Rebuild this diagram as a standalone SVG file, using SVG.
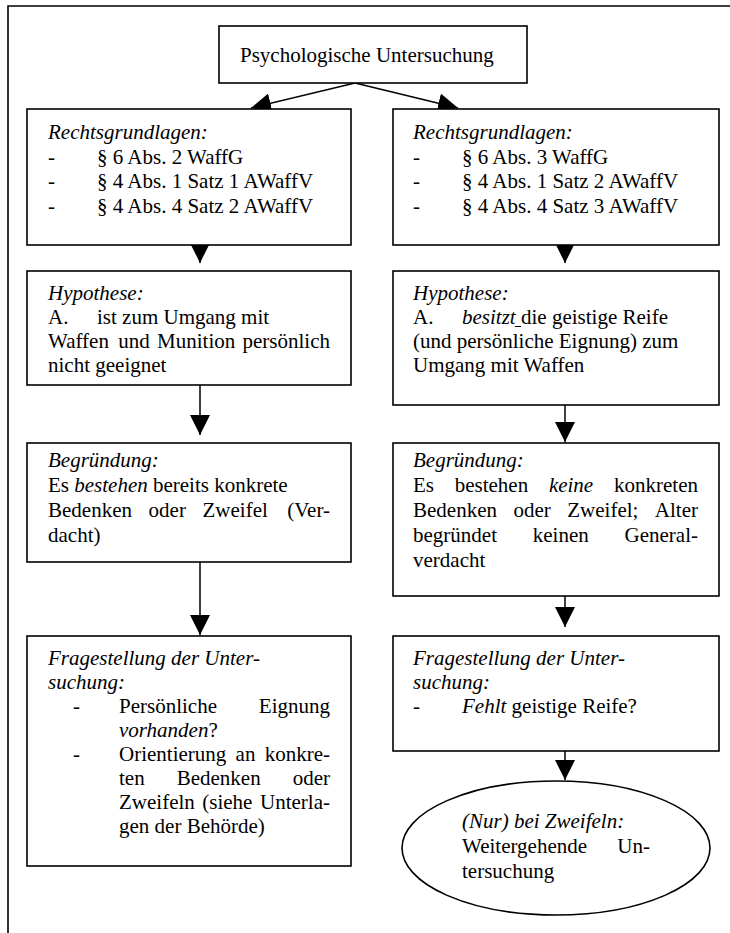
<svg xmlns="http://www.w3.org/2000/svg" width="730" height="933" viewBox="0 0 730 933">
<style>
.box{fill:#fff;stroke:#000;stroke-width:1.6}
.t{font-family:"Liberation Serif","Times New Roman",serif;font-size:21px;fill:#000}
.i{font-style:italic}
.c{stroke:#000;stroke-width:1.5;fill:none;marker-end:url(#ah)}
.frame{stroke:#000;stroke-width:1.6;fill:none}
</style>
<defs>
<marker id="ah" markerUnits="userSpaceOnUse" markerWidth="20" markerHeight="20" refX="20" refY="10" orient="auto" viewBox="0 0 20 20"><path d="M0,0L20,10L0,20Z" fill="#000"/></marker>
</defs>
<rect width="730" height="933" fill="#fff"/>
<path class="frame" d="M8,933V6H730"/>

<g id="connectors">
<path class="c" d="M355,83L251,108"/>
<path class="c" d="M355,83L458,108"/>
<path class="c" d="M200,245V263"/>
<path class="c" d="M200,385V435"/>
<path class="c" d="M200,562V635"/>
<path class="c" d="M565,245V263"/>
<path class="c" d="M565,405V442"/>
<path class="c" d="M565,596V627"/>
<path class="c" d="M565,751V780"/>
</g>

<g id="top">
<rect class="box" x="219" y="26" width="308" height="57"/>
<text class="t" x="240" y="62">Psychologische Untersuchung</text>
</g>

<g id="rech-left">
<rect class="box" x="27" y="109" width="324" height="136"/>
<text class="t i" x="48" y="139">Rechtsgrundlagen:</text>
<text class="t" x="48" y="164">-</text><text class="t" x="97" y="164">§ 6 Abs. 2 WaffG</text>
<text class="t" x="48" y="188">-</text><text class="t" x="97" y="188">§ 4 Abs. 1 Satz 1 AWaffV</text>
<text class="t" x="48" y="213">-</text><text class="t" x="97" y="213">§ 4 Abs. 4 Satz 2 AWaffV</text>
</g>

<g id="rech-right">
<rect class="box" x="393" y="109" width="326" height="136"/>
<text class="t i" x="413" y="139">Rechtsgrundlagen:</text>
<text class="t" x="413" y="164">-</text><text class="t" x="462" y="164">§ 6 Abs. 3 WaffG</text>
<text class="t" x="413" y="188">-</text><text class="t" x="462" y="188">§ 4 Abs. 1 Satz 2 AWaffV</text>
<text class="t" x="413" y="213">-</text><text class="t" x="462" y="213">§ 4 Abs. 4 Satz 3 AWaffV</text>
</g>

<g id="hyp-left">
<rect class="box" x="27" y="271" width="324" height="114"/>
<text class="t i" x="48" y="300">Hypothese:</text>
<text class="t" x="48" y="324">A.</text><text class="t" x="97" y="324">ist zum Umgang mit</text>
<text class="t" y="348"><tspan x="48">Waffen</tspan><tspan x="118.3">und</tspan><tspan x="157.1">Munition</tspan></text>
<text class="t" x="330" y="348" text-anchor="end">persönlich</text>
<text class="t" x="48" y="372">nicht geeignet</text>
</g>

<g id="hyp-right">
<rect class="box" x="393" y="271" width="326" height="134"/>
<text class="t i" x="413" y="300">Hypothese:</text>
<text class="t" x="413" y="324">A.</text>
<text class="t i" x="462" y="324">besitzt</text>
<line x1="515" y1="326.5" x2="521" y2="326.5" stroke="#000" stroke-width="1"/>
<text class="t" x="521" y="324">die geistige Reife</text>
<text class="t" x="413" y="348">(und persönliche Eignung) zum</text>
<text class="t" x="413" y="372">Umgang mit Waffen</text>
</g>

<g id="begr-left">
<rect class="box" x="27" y="443" width="324" height="119"/>
<text class="t i" x="48" y="467">Begründung:</text>
<text class="t" x="48" y="492">Es <tspan class="i">bestehen</tspan> bereits konkrete</text>
<text class="t" y="517"><tspan x="48">Bedenken</tspan><tspan x="148.6">oder</tspan><tspan x="202.5">Zweifel</tspan></text>
<text class="t" x="330" y="517" text-anchor="end">(Ver-</text>
<text class="t" x="48" y="542">dacht)</text>
</g>

<g id="begr-right">
<rect class="box" x="393" y="443" width="326" height="153"/>
<text class="t i" x="413" y="467">Begründung:</text>
<text class="t" y="492"><tspan x="413">Es</tspan><tspan x="454.7">bestehen</tspan><tspan x="548.9" class="i">keine</tspan></text>
<text class="t" x="698" y="492" text-anchor="end">konkreten</text>
<text class="t" y="517"><tspan x="413">Bedenken</tspan><tspan x="513.5">oder</tspan><tspan x="567.3">Zweifel;</tspan></text>
<text class="t" x="698" y="517" text-anchor="end">Alter</text>
<text class="t" y="542"><tspan x="413">begründet</tspan><tspan x="532.8">keinen</tspan></text>
<text class="t" x="698" y="542" text-anchor="end">General-</text>
<text class="t" x="413" y="567">verdacht</text>
</g>

<g id="frag-left">
<rect class="box" x="27" y="636" width="324" height="230"/>
<text class="t i" x="48" y="665">Fragestellung der Unter-</text>
<text class="t i" x="48" y="689">suchung:</text>
<text class="t" x="73" y="713">-</text><text class="t" x="119" y="713">Persönliche</text>
<text class="t" x="330" y="713" text-anchor="end">Eignung</text>
<text class="t" x="119" y="737"><tspan class="i">vorhanden</tspan>?</text>
<text class="t" x="73" y="761">-</text>
<text class="t" y="761"><tspan x="119">Orientierung</tspan><tspan x="235.6">an</tspan></text>
<text class="t" x="330" y="761" text-anchor="end">konkre-</text>
<text class="t" y="785"><tspan x="119">ten</tspan><tspan x="176.7">Bedenken</tspan></text>
<text class="t" x="330" y="785" text-anchor="end">oder</text>
<text class="t" y="809"><tspan x="119">Zweifeln</tspan><tspan x="202.3">(siehe</tspan></text>
<text class="t" x="330" y="809" text-anchor="end">Unterla-</text>
<text class="t" x="119" y="833">gen der Behörde)</text>
</g>

<g id="frag-right">
<rect class="box" x="393" y="636" width="326" height="115"/>
<text class="t i" x="413" y="665">Fragestellung der Unter-</text>
<text class="t i" x="413" y="689">suchung:</text>
<text class="t" x="413" y="713">-</text>
<text class="t" x="462" y="713"><tspan class="i">Fehlt</tspan> geistige Reife?</text>
</g>

<g id="ellipse">
<ellipse cx="556" cy="848" rx="154" ry="67" fill="#fff" stroke="#000" stroke-width="1.6"/>
<text class="t i" x="462" y="828">(Nur) bei Zweifeln:</text>
<text class="t" x="462" y="853">Weitergehende</text>
<text class="t" x="650" y="853" text-anchor="end">Un-</text>
<text class="t" x="462" y="878">tersuchung</text>
</g>
</svg>
